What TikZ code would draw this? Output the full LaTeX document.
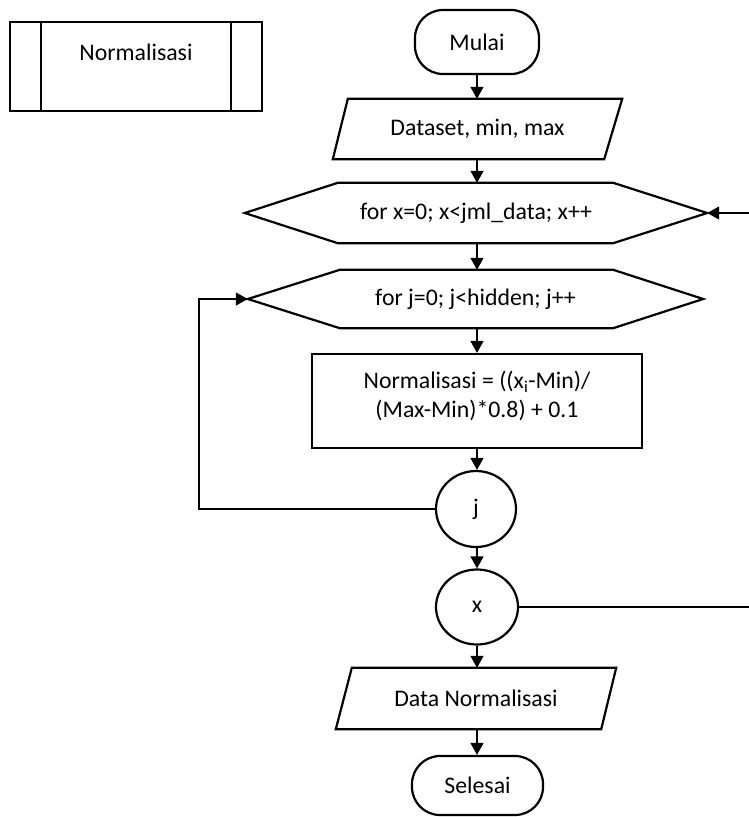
\documentclass[tikz,border=0pt]{standalone}
\usepackage{fontspec}
\setmainfont{Carlito}
\usetikzlibrary{arrows.meta,calc,shapes.geometric}
\begin{document}
\begin{tikzpicture}[x=1pt,y=-1pt,
  shp/.style={draw, line width=2.2pt},
  lbl/.style={font=\fontsize{23.8}{29.5}\selectfont, inner sep=0pt, align=center},
  frame/.style={inner sep=0pt, draw=none},
  tip/.style={-{Triangle[length=12pt,width=13pt]}},
  arr/.style={line width=1.3pt, tip},
  ln/.style={line width=1.1pt},
]
\useasboundingbox (0,0) rectangle (749,817);

% predefined process box
\node[draw, line width=2.4pt, minimum width=252pt, minimum height=89pt, inner sep=0pt] (pre) at (136,66.5) {};
\draw[shp] ($(pre.north west)+(32,0)$) -- ($(pre.south west)+(32,0)$);
\draw[shp] ($(pre.north east)+(-32,0)$) -- ($(pre.south east)+(-32,0)$);
\node[lbl] (pret) at (136,52) {Normalisasi};

% start
\node[shp, lbl, rounded corners=28pt, minimum width=124pt, minimum height=64pt] (mulai) at (477,42) {Mulai};

% input
\node[frame, lbl, minimum width=289pt, minimum height=60pt] (ds) at (477.5,129) {Dataset, min, max};
\draw[shp] ($(ds.north west)+(15,0)$) -- (ds.north east) -- ($(ds.south east)+(-18,0)$) -- (ds.south west) -- cycle;

% loop x
\node[frame, lbl, minimum width=462pt, minimum height=60pt] (h1) at (476,213) {for x=0; x<jml\_data; x++};
\draw[shp] (h1.west) -- ($(h1.north west)+(93,0)$) -- ($(h1.north east)+(-94,0)$) -- (h1.east)
  -- ($(h1.south east)+(-94,0)$) -- ($(h1.south west)+(93,0)$) -- cycle;

% loop j
\node[frame, lbl, minimum width=455pt, minimum height=58pt] (h2) at (475.5,299) {for j=0; j<hidden; j++};
\draw[shp] (h2.west) -- ($(h2.north west)+(92,0)$) -- ($(h2.north east)+(-90,0)$) -- (h2.east)
  -- ($(h2.south east)+(-90,0)$) -- ($(h2.south west)+(92,0)$) -- cycle;

% process
\node[shp, minimum width=330pt, minimum height=94pt, inner sep=0pt] (nb) at (477,401) {};
\node[lbl] (nbt) at (477,396) {Normalisasi = ((x\textsubscript{i}-Min)/\\(Max-Min)*0.8) + 0.1};

% connectors j, x
\node[shp, lbl, ellipse, minimum width=80pt, minimum height=76pt] (j) at (476,509) {j};
\node[shp, lbl, ellipse, minimum width=82pt, minimum height=75pt] (x) at (477,607) {x};

% output
\node[frame, lbl, minimum width=280pt, minimum height=61pt] (dn) at (476,698.5) {Data Normalisasi};
\draw[shp] ($(dn.north west)+(16,0)$) -- (dn.north east) -- ($(dn.south east)+(-15,0)$) -- (dn.south west) -- cycle;

% end
\node[shp, lbl, rounded corners=28pt, minimum width=131pt, minimum height=59pt] (sel) at (477.5,785.5) {Selesai};

% flow arrows
\draw[arr] (mulai.south) -- (mulai.south |- ds.north);
\draw[arr] (ds.south -| mulai.south) -- (mulai.south |- h1.north);
\draw[arr] (h1.south -| mulai.south) -- (mulai.south |- h2.north);
\draw[arr] (h2.south -| mulai.south) -- (mulai.south |- nb.north);
\draw[arr] (nb.south -| mulai.south) -- (mulai.south |- j.north);
\draw[arr] (j.south -| mulai.south) -- (mulai.south |- x.north);
\draw[arr] (x.south) -- (x.south |- dn.north);
\draw[arr] (dn.south -| x.south) -- (x.south |- sel.north);

% loop back j
\coordinate (jl) at (199,509);
\draw[ln, tip] (j.west) -- (jl) -- (jl |- h2.west) -- (h2.west);

% loop back x
\coordinate (xr) at (749,607);
\coordinate (hr) at (749,213);
\draw[ln] (x.east) -- (xr);
\draw[ln, tip] (hr) -- (h1.east);
\end{tikzpicture}
\end{document}
